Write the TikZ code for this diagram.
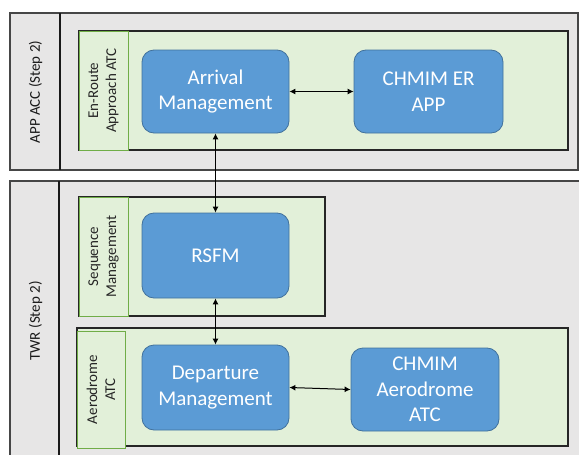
\documentclass[tikz,border=0pt]{standalone}
\usepackage{fontspec}
\setmainfont{Carlito}
\usetikzlibrary{arrows.meta}
\definecolor{poolfill}{RGB}{231,230,230}
\definecolor{lanefill}{RGB}{226,240,217}
\definecolor{lblgreen}{RGB}{112,173,71}
\definecolor{boxfill}{RGB}{91,155,213}
\definecolor{boxline}{RGB}{65,113,156}
\definecolor{poolline}{RGB}{70,70,70}
\begin{document}
\begin{tikzpicture}[x=1pt,y=-1pt,
  pool/.style={draw=poolline, line width=1.5pt, fill=poolfill},
  divider/.style={draw=black!90, line width=1.2pt},
  lane/.style={draw=black!85, line width=1.2pt, fill=lanefill},
  lanebox/.style={draw=lblgreen, line width=1pt, fill=lanefill},
  lanetext/.style={rotate=90, align=center, text=black!85, inner sep=0pt,
    font=\fontsize{15}{18}\selectfont},
  pooltext/.style={rotate=90, text=black!90, inner sep=0pt,
    font=\fontsize{15}{18}\selectfont},
  box/.style={draw=boxline, line width=0.8pt, fill=boxfill, rounded corners=12pt,
    text=white, align=center, inner sep=0pt,
    font=\fontsize{21}{25.5}\selectfont},
  link/.style={draw=black, line width=1pt, {Latex[length=6pt,width=6pt]}-{Latex[length=6pt,width=6pt]}}
]
\useasboundingbox (0,0) rectangle (579,455);
\clip (0,0) rectangle (579,455);
\fill[white] (0,0) rectangle (579,455);

% pools
\draw[pool] (10,13) rectangle (578,170);
\draw[divider] (60,13) -- (60,170);
\node[pooltext] (p1) at (35.5,92) {APP ACC (Step 2)};

\draw[pool] (10,181) rectangle (582,464);
\draw[divider] (59,181) -- (59,464);
\node[pooltext] (p2) at (35.5,321) {TWR (Step 2)};

% lanes
\draw[lane] (79,31) rectangle (568,150);
\draw[lanebox] (79,31) rectangle (128,150);
\node[lanetext] (l1) at (103.5,90.5) {En-Route\\Approach ATC};

\draw[lane] (79,197) rectangle (325,316);
\draw[lanebox] (79,197) rectangle (128,316);
\node[lanetext] (l2) at (103.5,256.5) {Sequence\\Management};

\draw[lane] (77,328) rectangle (568,446);
\draw[lanebox] (77,331) rectangle (125,448);
\node[lanetext] (l3) at (101,389.5) {Aerodrome\\ATC};

% boxes
\node[box, minimum width=147pt, minimum height=83pt] (arr) at (215.5,91.5) {Arrival\\Management};
\node[box, minimum width=149pt, minimum height=83pt] (er) at (428.5,91.5) {CHMIM ER\\APP};
\node[box, minimum width=147pt, minimum height=85pt] (rsfm) at (215.5,255.5) {RSFM};
\node[box, minimum width=147pt, minimum height=85pt] (dep) at (215.5,387.5) {Departure\\Management};
\node[box, minimum width=148pt, minimum height=83pt] (chad) at (425,389.5) {CHMIM\\Aerodrome\\ATC};

% connectors
\draw[link] (arr.east) -- (er.west);
\draw[link] (arr.south) -- (rsfm.north);
\draw[link] (rsfm.south) -- (dep.north);
\draw[link] (dep.east) -- (chad.west);
\end{tikzpicture}
\end{document}
